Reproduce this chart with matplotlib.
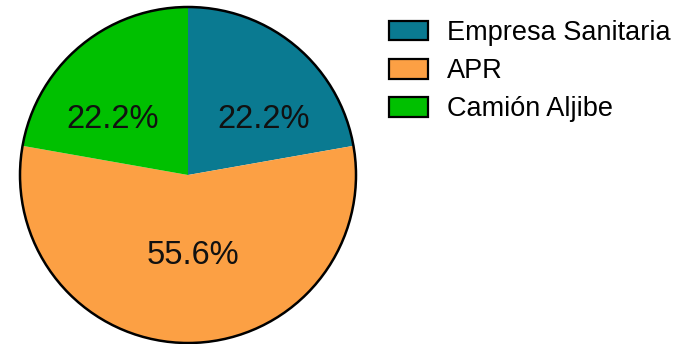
import matplotlib
matplotlib.use("Agg")
import matplotlib.pyplot as plt
from matplotlib.patches import Circle, Patch

plt.rcParams['font.family'] = ['Liberation Sans', 'DejaVu Sans']

categories = ["Empresa Sanitaria", "APR", "Camión Aljibe"]
counts = [2, 5, 2]
colors = ["#0a7a91", "#fca044", "#00c000"]

# label placement (radius units) for each percentage text
label_xy = [(0.45, 0.33), (0.03, -0.48), (-0.45, 0.33)]

fig = plt.figure(figsize=(6.8, 3.44), dpi=100)
ax = fig.add_axes([20 / 680, 1 / 344, 336 / 680, 336 / 344])

wedges, texts, autotexts = ax.pie(
    counts, colors=colors, startangle=90, counterclock=False,
    autopct="%1.1f%%", radius=1.0,
    wedgeprops=dict(linewidth=0, edgecolor="none"),
    textprops=dict(fontsize=23.5, color="#111111"),
)
for t, (x, y) in zip(autotexts, label_xy):
    t.set_position((x, y))

ax.add_patch(Circle((0, 0), 1.0, fill=False, edgecolor="black",
                    linewidth=1.8, clip_on=False))
ax.set_xlim(-1.0, 1.0)
ax.set_ylim(-1.0, 1.0)
ax.set_aspect("equal")
ax.axis("off")

handles = [Patch(facecolor=c, edgecolor="black", linewidth=1.6) for c in colors]
fig.legend(handles, categories, loc="upper left",
           bbox_to_anchor=(389 / 680, 1 - 20 / 344),
           frameon=False, fontsize=19.5, handlelength=1.44, handleheight=0.74,
           labelspacing=0.45, handletextpad=0.7, borderaxespad=0, borderpad=0)

fig.savefig("out.png", dpi=100)
